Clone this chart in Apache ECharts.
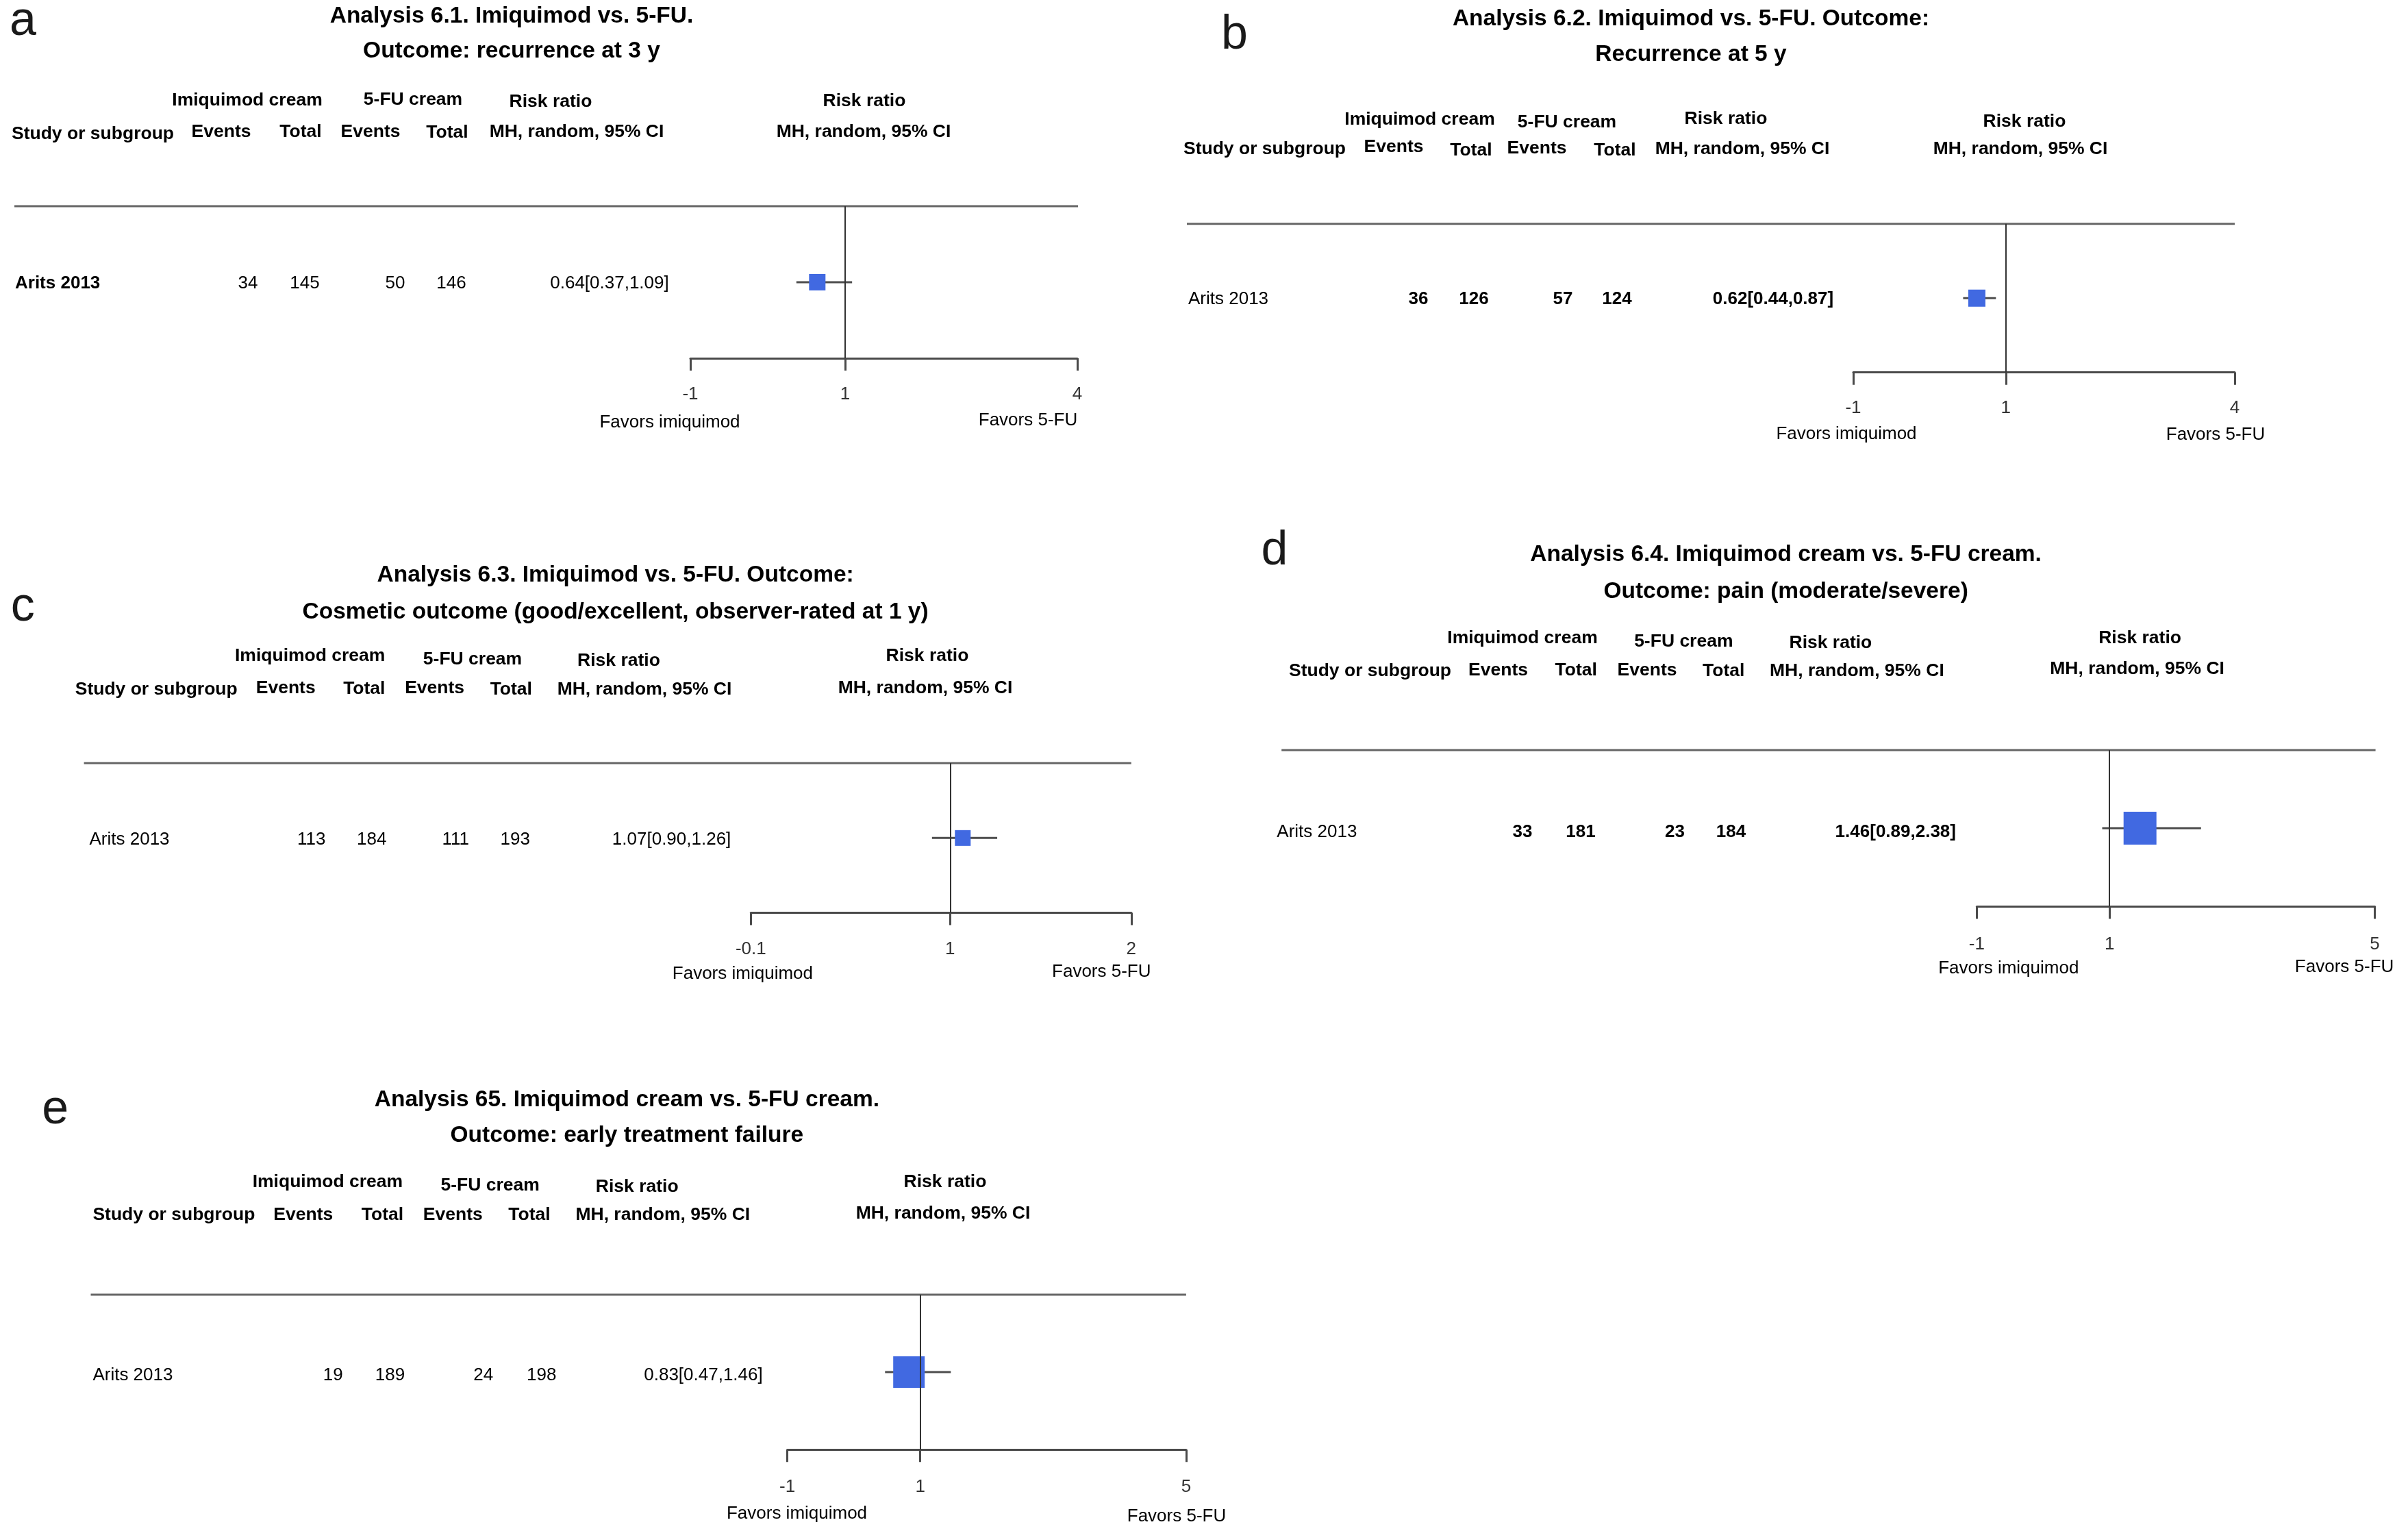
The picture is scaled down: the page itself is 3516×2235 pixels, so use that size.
<!DOCTYPE html>
<html><head><meta charset="utf-8">
<script src="https://cdn.jsdelivr.net/npm/echarts@6/dist/echarts.min.js"></script>
<style>html,body{margin:0;padding:0;background:#fff}#c{width:3516px;height:2235px}</style>
</head><body><div id="c"></div>
<script>
// ---------- data ----------
const panelLetters = ['a', 'b', 'c', 'd', 'e'];
const titleLine1 = [
  'Analysis 6.1. Imiquimod vs. 5-FU.',
  'Analysis 6.2. Imiquimod vs. 5-FU. Outcome:',
  'Analysis 6.3. Imiquimod vs. 5-FU. Outcome:',
  'Analysis 6.4. Imiquimod cream vs. 5-FU cream.',
  'Analysis 65. Imiquimod cream vs. 5-FU cream.'
];
const titleLine2 = [
  'Outcome: recurrence at 3 y',
  'Recurrence at 5 y',
  'Cosmetic outcome (good/excellent, observer-rated at 1 y)',
  'Outcome: pain (moderate/severe)',
  'Outcome: early treatment failure'
];
const groupHeaders = ['Imiquimod cream', '5-FU cream', 'Risk ratio', 'Risk ratio'];
const columnHeaders = ['Study or subgroup', 'Events', 'Total', 'Events', 'Total', 'MH, random, 95% CI', 'MH, random, 95% CI'];
const studyNames = ['Arits 2013', 'Arits 2013', 'Arits 2013', 'Arits 2013', 'Arits 2013'];
const imiEvents = [34, 36, 113, 33, 19];
const imiTotal = [145, 126, 184, 181, 189];
const fuEvents = [50, 57, 111, 23, 24];
const fuTotal = [146, 124, 193, 184, 198];
const riskRatio = [0.64, 0.62, 1.07, 1.46, 0.83];
const ciLower = [0.37, 0.44, 0.90, 0.89, 0.47];
const ciUpper = [1.09, 0.87, 1.26, 2.38, 1.46];
const axisMin = [-1, -1, -0.1, -1, -1];
const axisMax = [4, 4, 2, 5, 5];
const tickValues = [[-1, 1, 4], [-1, 1, 4], [-0.1, 1, 2], [-1, 1, 5], [-1, 1, 5]];
const favorsLabels = ['Favors imiquimod', 'Favors 5-FU'];

// ---------- layout (pixel positions / styles) ----------
const L = [
  { letter: [14, 56], title: [747, 35, 86],
    grp: [[361, 156], [603, 155], [804, 158], [1262, 157]],
    cols: [[17, 205], [323, 202], [439, 202], [541, 202], [653, 203], [842, 202], [1261, 202]],
    line: [21, 1574, 301], rowY: 423, rowX: [22, 362, 445, 577, 659, 890],
    plot: [1008, 1573, 301, 523], sq: 24, fav: [[978, 617], [1501, 614]], margin: 40,
    nameW: 'bold', numW: 'normal', rrW: 'normal' },
  { letter: [1783, 76], title: [2469, 39.5, 91.5],
    grp: [[2073, 184.4], [2288, 187.8], [2520, 182.9], [2956, 186.8]],
    cols: [[1728, 227.4], [2035, 224.4], [2148, 229.3], [2244, 226.4], [2358, 229.3], [2544, 227.4], [2950, 227.4]],
    line: [1733, 3263, 326.8], rowY: 445.8, rowX: [1735, 2071, 2152, 2282, 2361, 2589],
    plot: [2706, 3263, 326.8, 543.7], sq: 25, fav: [[2696, 633.6], [3235, 634.6]], margin: 39,
    nameW: 'normal', numW: 'bold', rrW: 'bold' },
  { letter: [15.8, 911.5], title: [898.6, 851.2, 905],
    grp: [[452.7, 966.8], [690, 971.8], [903.5, 974.2], [1354, 966.8]],
    cols: [[109.7, 1016.3], [417.2, 1014.3], [531.8, 1015.3], [634.6, 1014.3], [746.3, 1016.3], [941, 1016.3], [1351, 1014.3]],
    line: [122.6, 1651.8, 1114.1], rowY: 1234.7, rowX: [130.5, 454.7, 542.7, 665.3, 752.3, 980.6],
    plot: [1096.3, 1651.8, 1114.1, 1332.6], sq: 23, fav: [[1084.4, 1421.5], [1608.3, 1418.6]], margin: 40,
    nameW: 'normal', numW: 'normal', rrW: 'normal' },
  { letter: [1841.5, 829.1], title: [2607.6, 821.2, 875],
    grp: [[2223, 940.8], [2458.3, 945.7], [2672.9, 947.7], [3124.6, 940.8]],
    cols: [[1882, 989.2], [2187.5, 988.2], [2301.2, 988.2], [2405, 988.2], [2516.7, 989.2], [2711.4, 989.2], [3120.6, 986.3]],
    line: [1871.2, 3468.6, 1094.9], rowY: 1223.5, rowX: [1864.3, 2223, 2308, 2445.5, 2527.5, 2767.8],
    plot: [2886.4, 3467.6, 1094.9, 1323.3], sq: 48, fav: [[2932.8, 1414.3], [3423.1, 1412.3]], margin: 43,
    nameW: 'normal', numW: 'bold', rrW: 'bold' },
  { letter: [61.3, 1644.8], title: [915.4, 1617.6, 1669.5],
    grp: [[478.4, 1734.7], [715.7, 1739.7], [930.2, 1741.7], [1380, 1734.7]],
    cols: [[135.4, 1783.2], [442.8, 1783.2], [558.5, 1783.2], [661.3, 1783.2], [773, 1783.2], [967.8, 1783.2], [1377, 1781.2]],
    line: [132.5, 1731.9, 1889.9], rowY: 2016.5, rowX: [135.4, 486.3, 569.4, 705.8, 790.8, 1027],
    plot: [1149.6, 1731.9, 1889.9, 2116.3], sq: 46, fav: [[1163.5, 2210.2], [1718, 2213.5]], margin: 42,
    nameW: 'normal', numW: 'normal', rrW: 'normal' }
];

const FAM = '"Liberation Sans", Arial, Helvetica, sans-serif';
function txt(text, x, baseline, size, weight, align, color) {
  return {
    type: 'text', silent: true,
    style: {
      text: text, x: x, y: baseline - 0.35 * size,
      font: (weight || 'normal') + ' ' + size + 'px ' + FAM,
      fill: color || '#000', textAlign: align || 'center', textVerticalAlign: 'middle'
    }
  };
}
function txtMid(text, x, mid, size, weight, align, color) {
  return {
    type: 'text', silent: true,
    style: {
      text: text, x: x, y: mid,
      font: (weight || 'normal') + ' ' + size + 'px ' + FAM,
      fill: color || '#000', textAlign: align || 'center', textVerticalAlign: 'middle'
    }
  };
}

const grids = [], xAxes = [], yAxes = [], series = [], graphics = [];
const HS = 26.5, RS = 26, TS = 33.5;

for (let i = 0; i < 5; i++) {
  const l = L[i];
  graphics.push(txt(panelLetters[i], l.letter[0], l.letter[1], 70, 'normal', 'left', '#1a1a1a'));
  graphics.push(txt(titleLine1[i], l.title[0], l.title[1], TS, 'bold'));
  graphics.push(txt(titleLine2[i], l.title[0], l.title[2], TS, 'bold'));
  groupHeaders.forEach((h, k) => graphics.push(txt(h, l.grp[k][0], l.grp[k][1], HS, 'bold')));
  columnHeaders.forEach((h, k) => graphics.push(txt(h, l.cols[k][0], l.cols[k][1], HS, 'bold', k === 0 ? 'left' : 'center')));
  graphics.push({ type: 'line', silent: true,
    shape: { x1: l.line[0], y1: l.line[2], x2: l.line[1], y2: l.line[2] },
    style: { stroke: '#666', lineWidth: 3 } });
  const rrText = riskRatio[i].toFixed(2) + '[' + ciLower[i].toFixed(2) + ',' + ciUpper[i].toFixed(2) + ']';
  const rowVals = [studyNames[i], String(imiEvents[i]), String(imiTotal[i]), String(fuEvents[i]), String(fuTotal[i]), rrText];
  rowVals.forEach((v, k) => {
    const w = k === 0 ? l.nameW : (k === 5 ? l.rrW : l.numW);
    graphics.push(txt(v, l.rowX[k], l.rowY, RS, w, k === 0 ? 'left' : 'center'));
  });
  favorsLabels.forEach((f, k) => graphics.push(txtMid(f, l.fav[k][0], l.fav[k][1], RS, 'normal', 'center')));

  grids.push({ left: l.plot[0], top: l.plot[2], width: l.plot[1] - l.plot[0], height: l.plot[3] - l.plot[2], containLabel: false });
  xAxes.push({
    type: 'value', gridIndex: i, min: axisMin[i], max: axisMax[i], position: 'bottom',
    splitLine: { show: false },
    axisLine: { show: true, onZero: false, lineStyle: { color: '#4a4a4a', width: 3 } },
    axisTick: { show: true, customValues: tickValues[i], length: 18, inside: false, lineStyle: { color: '#4a4a4a', width: 3 } },
    axisLabel: { show: true, customValues: tickValues[i], margin: l.margin, fontSize: 26, fontFamily: FAM, color: '#333',
      formatter: v => String(v), hideOverlap: false, showMinLabel: true, showMaxLabel: true }
  });
  yAxes.push({ type: 'category', gridIndex: i, data: [studyNames[i]], show: false });
  series.push({
    type: 'custom', xAxisIndex: i, yAxisIndex: i, clip: false,
    data: [[riskRatio[i], studyNames[i], ciLower[i], ciUpper[i]]],
    encode: { x: [0, 2, 3], y: 1 },
    renderItem: function (params, api) {
      const cat = api.value(1);
      const p = api.coord([api.value(0), cat]);
      const lo = api.coord([api.value(2), cat]);
      const hi = api.coord([api.value(3), cat]);
      const s = L[params.seriesIndex].sq;
      return { type: 'group', children: [
        { type: 'line', shape: { x1: lo[0], y1: p[1], x2: hi[0], y2: p[1] }, style: { stroke: '#4d4d4d', lineWidth: 3 } },
        { type: 'rect', shape: { x: p[0] - s / 2, y: p[1] - s / 2, width: s, height: s }, style: { fill: '#4169E1' } }
      ] };
    },
    markLine: {
      silent: true, symbol: ['none', 'none'], animation: false,
      label: { show: false },
      lineStyle: { color: '#333', width: 2, type: 'solid' },
      data: [{ xAxis: 1 }]
    }
  });
}

const chart = echarts.init(document.getElementById('c'), null, { renderer: 'canvas' });
chart.setOption({
  backgroundColor: '#fff',
  animation: false,
  grid: grids, xAxis: xAxes, yAxis: yAxes, series: series,
  graphic: graphics
});
</script>
</body></html>
